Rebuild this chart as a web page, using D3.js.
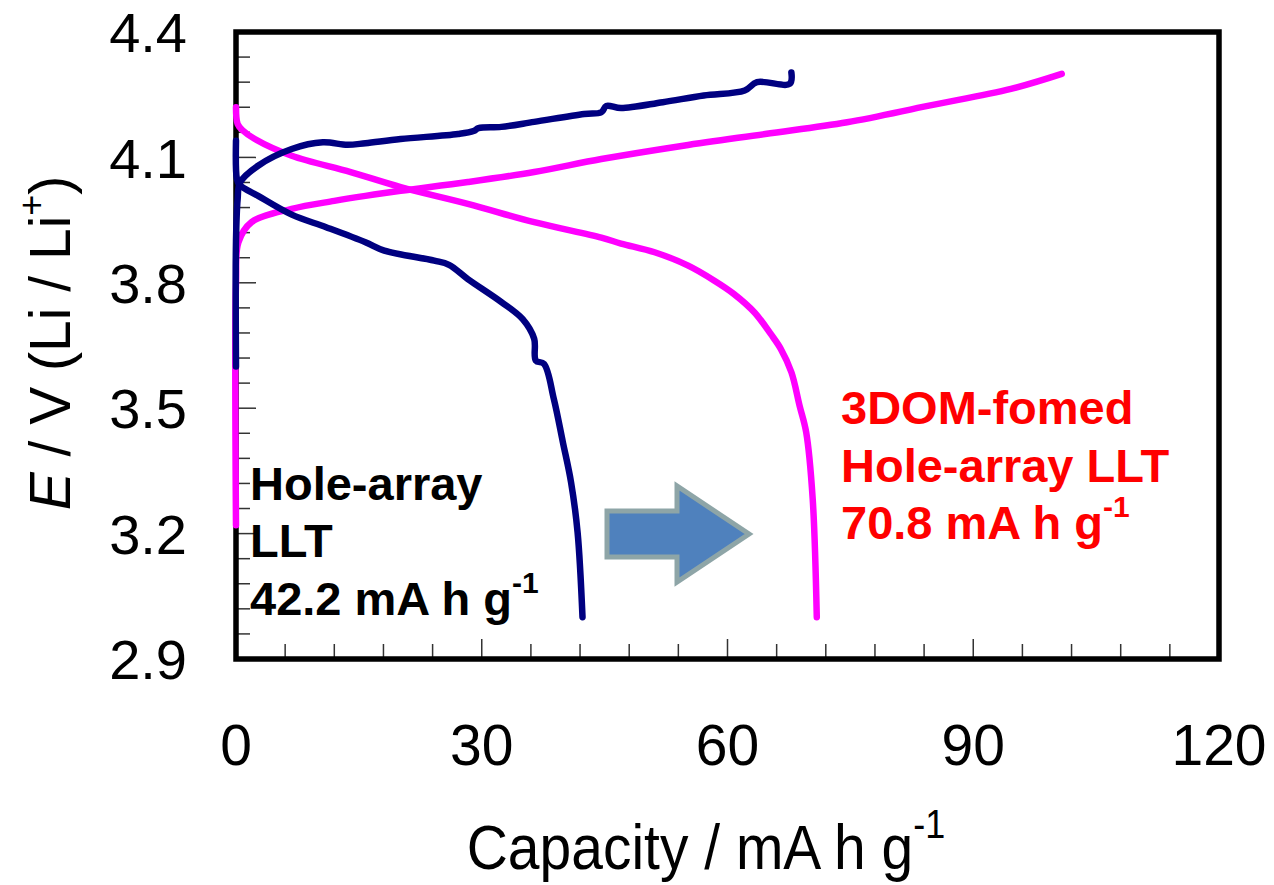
<!DOCTYPE html>
<html>
<head>
<meta charset="utf-8">
<script src="https://cdn.jsdelivr.net/npm/d3@7"></script>
<style>
  html, body { margin: 0; padding: 0; background: #fff; }
  svg { display: block; font-family: "Liberation Sans", Arial, sans-serif; }
</style>
</head>
<body>
<svg id="chart" width="1274" height="885"></svg>
<script>
// ---- Data ----
const xTicksMajor = [0, 30, 60, 90, 120];
const yTicksMajor = [2.9, 3.2, 3.5, 3.8, 4.1, 4.4];

// Hole-array LLT (navy) charge
const holeChargeCap = [0, 0, 0.2, 0.5, 2.7, 6.8, 10.6, 13.6, 15.8, 20.1, 27.1, 29, 29.6, 32.4, 36.4, 42.5, 44.6, 45.2, 47, 52.1, 57.1, 62.1, 63.6, 67.6, 67.8];
const holeChargeV   = [3.60, 3.90, 4.00, 4.04, 4.08, 4.12, 4.136, 4.13, 4.134, 4.144, 4.156, 4.163, 4.170, 4.173, 4.185, 4.204, 4.208, 4.223, 4.218, 4.232, 4.248, 4.26, 4.28, 4.276, 4.303];
// Hole-array LLT (navy) discharge
const holeDisCap = [0, 0.1, 0.4, 2.7, 6.8, 11, 15.8, 18.1, 24.2, 26, 28.3, 32.4, 35, 36.4, 36.6, 37.6, 38.8, 39.9, 40.9, 41.7, 42.3];
const holeDisV   = [4.14, 4.05, 4.035, 4.008, 3.963, 3.933, 3.897, 3.877, 3.853, 3.843, 3.809, 3.754, 3.713, 3.666, 3.614, 3.606, 3.522, 3.419, 3.323, 3.203, 3.0];
// 3DOM-fomed Hole-array LLT (magenta) charge
const domChargeCap = [0, 0, 0.3, 1.9, 6.8, 12, 15.8, 20.1, 28.3, 36.4, 44.6, 54.6, 64.6, 74.6, 84.6, 94.6, 100.8];
const domChargeV   = [3.22, 3.80, 3.897, 3.945, 3.977, 3.996, 4.008, 4.02, 4.041, 4.065, 4.096, 4.128, 4.156, 4.184, 4.224, 4.264, 4.30];
// 3DOM-fomed Hole-array LLT (magenta) discharge
const domDisCap = [0, 0.2, 0.8, 2.3, 6.8, 14, 20.1, 28.3, 36.4, 44.6, 47, 51.1, 55.2, 58.4, 60.8, 63.3, 65.3, 66.5, 67.8, 68.8, 69.6, 70.4, 70.9];
const domDisV   = [4.22, 4.18, 4.165, 4.144, 4.104, 4.065, 4.029, 3.989, 3.945, 3.908, 3.894, 3.873, 3.841, 3.805, 3.773, 3.729, 3.677, 3.642, 3.586, 3.506, 3.443, 3.283, 3.0];

const capacityLabels = ["42.2 mA h g", "70.8 mA h g"];

// ---- Layout ----
const svg = d3.select("#chart");
const x = d3.scaleLinear().domain([0, 120]).range([236, 1219]);
const y = d3.scaleLinear().domain([2.9, 4.4]).range([659, 32]);

const yMinor = d3.range(0, 26).map(i => +(2.9 + i * 0.06).toFixed(2)).filter(v => v > 2.9 && v < 4.4);
const xAll = d3.range(6, 120, 6);

const g = svg.append("g");
g.selectAll(".ytick").data(yMinor).join("line")
  .attr("x1", x(0)).attr("x2", v => x(0) + (yTicksMajor.some(m => Math.abs(m - v) < 1e-6) ? 20 : 14))
  .attr("y1", v => y(v)).attr("y2", v => y(v))
  .attr("stroke", "#333").attr("stroke-width", 1.5);
g.selectAll(".xtick").data(xAll).join("line")
  .attr("x1", v => x(v)).attr("x2", v => x(v))
  .attr("y1", y(2.9)).attr("y2", v => y(2.9) - (v % 30 === 0 ? 20 : 15))
  .attr("stroke", "#333").attr("stroke-width", 1.5);

// tick labels
svg.append("g").selectAll("text").data(yTicksMajor).join("text")
  .attr("x", 187).attr("y", v => y(v)).attr("dy", "0.36em")
  .attr("text-anchor", "end").attr("font-size", 56).attr("fill", "#000")
  .text(v => v.toFixed(1));
svg.append("g").selectAll("text").data(xTicksMajor).join("text")
  .attr("x", v => x(v)).attr("y", 765)
  .attr("text-anchor", "middle").attr("font-size", 57).attr("fill", "#000")
  .text(v => v);

// axis titles
const xt = svg.append("text").attr("transform", "translate(706,869) scale(1,1.12)")
  .attr("text-anchor", "middle").attr("font-size", 57).attr("fill", "#000");
xt.append("tspan").text("Capacity / mA h g");
xt.append("tspan").attr("dy", -28).attr("font-size", 36).text("-1");

const yt = svg.append("text").attr("transform", "translate(70,343) rotate(-90)")
  .attr("text-anchor", "middle").attr("font-size", 57).attr("fill", "#000");
yt.append("tspan").attr("font-style", "italic").text("E");
yt.append("tspan").text(" / V (Li / Li");
yt.append("tspan").attr("dy", -26).attr("font-size", 36).text("+");
yt.append("tspan").attr("dy", 26).text(")");

// frame (drawn below curves)
svg.append("rect").attr("x", x(0)).attr("y", y(4.4)).attr("width", x(120) - x(0)).attr("height", y(2.9) - y(4.4))
  .attr("fill", "none").attr("stroke", "#000").attr("stroke-width", 5.5);

// curves
const line = d3.line().x(d => x(d[0])).y(d => y(d[1])).curve(d3.curveCatmullRom.alpha(0.5));
const zip = (a, b) => a.map((v, i) => [v, b[i]]);
const curves = [
  { pts: zip(domChargeCap, domChargeV), color: "#FF00FF" },
  { pts: zip(domDisCap, domDisV), color: "#FF00FF" },
  { pts: zip(holeChargeCap, holeChargeV), color: "#000080" },
  { pts: zip(holeDisCap, holeDisV), color: "#000080" }
];
svg.append("g").selectAll("path").data(curves).join("path")
  .attr("d", d => line(d.pts))
  .attr("fill", "none").attr("stroke", d => d.color)
  .attr("stroke-width", 6.5).attr("stroke-linejoin", "round").attr("stroke-linecap", "round");

// arrow
svg.append("polygon")
  .attr("points", "607,511 677,511 677,486 749,534 677,582 677,557 607,557")
  .attr("fill", "#4F81BD").attr("stroke", "#8EA5A7").attr("stroke-width", 5).attr("stroke-linejoin", "miter");

// annotations
const a1 = svg.append("text").attr("font-size", 47).attr("font-weight", "bold").attr("fill", "#000");
a1.append("tspan").attr("x", 250).attr("y", 500).text("Hole-array");
a1.append("tspan").attr("x", 250).attr("y", 557).text("LLT");
a1.append("tspan").attr("x", 250).attr("y", 615).text(capacityLabels[0]);
a1.append("tspan").attr("dy", -22).attr("font-size", 30).text("-1");

const a2 = svg.append("text").attr("font-size", 47).attr("font-weight", "bold").attr("fill", "#FF0000");
a2.append("tspan").attr("x", 841).attr("y", 424).text("3DOM-fomed");
a2.append("tspan").attr("x", 841).attr("y", 482).text("Hole-array LLT");
a2.append("tspan").attr("x", 841).attr("y", 539).text(capacityLabels[1]);
a2.append("tspan").attr("dy", -22).attr("font-size", 30).text("-1");
</script>
</body>
</html>
